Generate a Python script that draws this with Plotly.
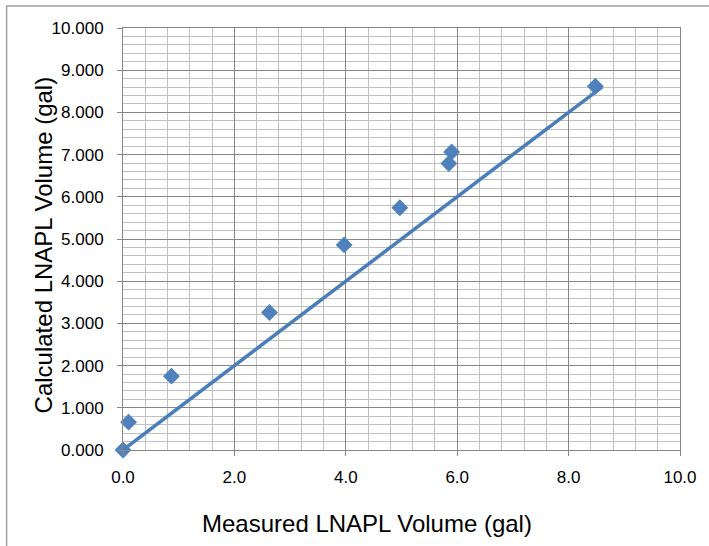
import plotly.graph_objects as go

measured = [0.0, 0.1, 0.87, 2.63, 3.97, 4.97, 5.85, 5.90, 8.48]
calculated = [0.0, 0.66, 1.75, 3.26, 4.86, 5.74, 6.79, 7.06, 8.62]
line_x = [0.0, 8.6]
line_y = [0.0, 8.6]
x_title = "Measured LNAPL Volume (gal)"
y_title = "Calculated LNAPL Volume (gal)"

blue = "#4f81bd"
major = "#878787"
minor = "#c0c0c0"
font = "Liberation Sans"

L, R, T, B = 123, 26, 28, 96
W, H = 709, 546
pw, ph = W - L - R, H - T - B

def px(xp):
    return (xp - L) / pw

def py(yp):
    return (H - B - yp) / ph

fig = go.Figure()
fig.add_trace(go.Scatter(x=measured, y=calculated, mode="markers",
                         marker=dict(symbol="diamond", size=13, color=blue),
                         showlegend=False, cliponaxis=False))
fig.add_trace(go.Scatter(x=line_x, y=line_y, mode="lines",
                         line=dict(color="#4a7ebb", width=3.5),
                         showlegend=False, cliponaxis=False))

fig.update_layout(
    width=W, height=H,
    margin=dict(l=L, r=R, t=T, b=B),
    paper_bgcolor="white", plot_bgcolor="white",
    font=dict(family=font, color="#000000"),
    xaxis=dict(range=[0, 10], dtick=2, tick0=0, tickformat=".1f",
               showgrid=True, gridcolor=major, gridwidth=1,
               minor=dict(dtick=0.4, showgrid=True, gridcolor=minor, gridwidth=1),
               showline=True, linecolor=major, linewidth=1, mirror=True,
               ticks="outside", ticklen=5, tickcolor=major,
               ticklabelstandoff=7,
               tickfont=dict(size=17, family=font),
               zeroline=False),
    yaxis=dict(range=[0, 10], dtick=1, tick0=0, tickformat=".3f",
               showgrid=True, gridcolor=major, gridwidth=1,
               minor=dict(dtick=0.2, showgrid=True, gridcolor=minor, gridwidth=1),
               showline=True, linecolor=major, linewidth=1, mirror=True,
               ticks="outside", ticklen=5, tickcolor=major,
               ticklabelstandoff=10,
               tickfont=dict(size=17, family=font),
               zeroline=False),
)

fig.add_annotation(text=x_title, xref="paper", yref="paper", x=px(368), y=py(523),
                   xanchor="center", yanchor="middle", showarrow=False,
                   font=dict(size=24, family=font, color="#000000"))
fig.add_annotation(text=y_title, xref="paper", yref="paper", x=px(43), y=py(245),
                   xanchor="center", yanchor="middle", showarrow=False, textangle=-90,
                   font=dict(size=24, family=font, color="#000000"))

# outer chart border (only left/top edges visible in the frame)
fig.add_shape(type="rect", xref="paper", yref="paper",
              x0=px(6), x1=px(W + 20), y0=py(H + 20), y1=py(6),
              line=dict(color="#a0a0a0", width=1.5), fillcolor="rgba(0,0,0,0)", layer="below")

fig.write_html("out.html", config={"displayModeBar": False},
               post_script="document.body.style.margin='0';document.body.style.overflow='hidden';")
